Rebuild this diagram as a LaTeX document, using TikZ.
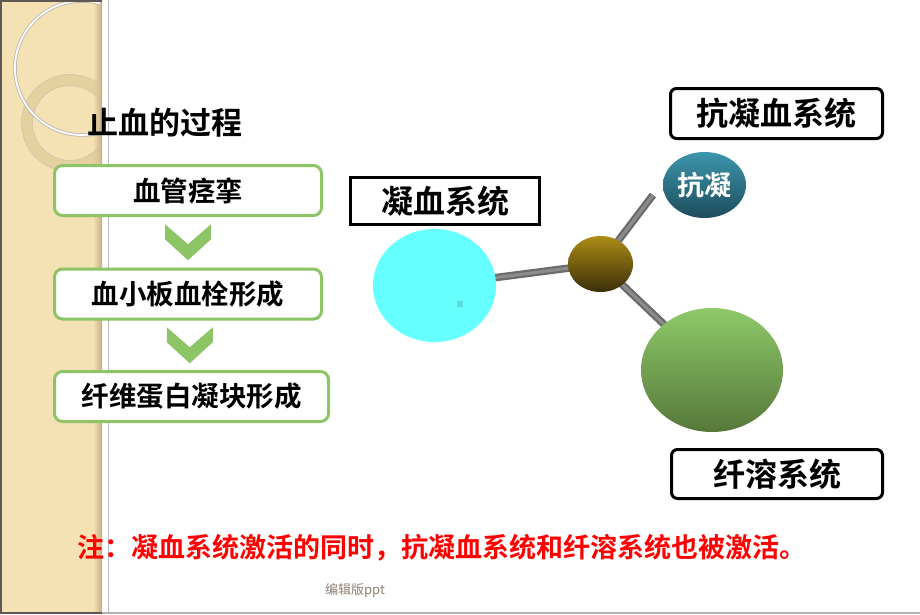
\documentclass[tikz,border=0pt]{standalone}
\usepackage{fontspec}
\newfontfamily\cjk{Noto Sans CJK SC}[BoldFont={Noto Sans CJK SC Bold}]
\usetikzlibrary{shapes.geometric,positioning,backgrounds}
\definecolor{leafgreen}{HTML}{8CC466}
\definecolor{sand}{HTML}{F4E2B4}
\definecolor{sandedge}{HTML}{C4AE82}
\definecolor{ringtan}{HTML}{DCC494}
\definecolor{framegray}{HTML}{5E5752}
\definecolor{aqua}{HTML}{66FFFF}
\definecolor{aquadot}{HTML}{5CD9D9}
\definecolor{hubtop}{HTML}{AC8C16}
\definecolor{hubbot}{HTML}{3A2E08}
\definecolor{tealtop}{HTML}{3C96AC}
\definecolor{tealbot}{HTML}{1E4C5C}
\definecolor{limetop}{HTML}{8EC969}
\definecolor{limebot}{HTML}{56783A}
\tikzset{chevron/.pic={\fill[leafgreen] (-23,-18) -- (0,2) -- (23,-18) -- (23,-3) -- (0,18) -- (-23,-3) -- cycle;}}

\begin{document}
\begin{tikzpicture}[x=1pt, y=-1pt, every node/.style={font=\cjk\bfseries},
    stepbox/.style={draw=leafgreen, line width=3pt, rounded corners=8pt, fill=white, minimum height=50pt, font=\cjk\bfseries\fontsize{27.5}{32}\selectfont},
    sysbox/.style={draw=black, line width=3pt, fill=white, minimum height=47pt, font=\cjk\bfseries\fontsize{32}{36}\selectfont},
    ball/.style={ellipse, inner sep=0pt, draw=none},
    rod/.style={line width=7.5pt, draw=black!58, postaction={draw=black!45, line width=3pt}}]
    \useasboundingbox (0,0) rectangle (920,614);

    % side strip
    \fill[sand] (0,0) rectangle (100,614);
    \shade[left color=sand, right color=sandedge] (93,0) rectangle (102,612);
    \begin{scope}
        \clip (0,0) rectangle (100,612);
        \draw[ringtan, line width=11pt, opacity=.6] (70,123) circle (43);
        \draw[sandedge!70, line width=.8pt] (70,123) circle (48.5) (70,123) circle (37.5);
        \draw[gray!55, line width=3.5pt] (82,68) circle (67);
        \draw[white!85!sand, line width=1.8pt] (82,68) circle (67);
    \end{scope}
    \draw[framegray, line width=2pt] (1,614) -- (1,1) -- (102,1);
    \draw[gray!60, line width=2pt] (0,613) -- (920,613);
    \draw[framegray, line width=2pt] (0,613) -- (102,613);
    \draw[gray!55, line width=1.2pt] (108.5,0) -- (108.5,614);

    % process
    \node[font=\cjk\bfseries\fontsize{31}{36}\selectfont] (title) at (165,123) {止血的过程};
    \node[stepbox, minimum width=267pt] (b1) at (188,190.5) {血管痉挛};
    \node[stepbox, minimum width=267pt] (b2) at (188,294) {血小板血栓形成};
    \node[stepbox, minimum width=274pt] (b3) at (191.5,396.5) {纤维蛋白凝块形成};
    \path (b1) -- (b2) pic[pos=.5] {chevron};
    \path (b2) -- (b3) pic[pos=.5] {chevron};

    % systems
    \node[sysbox, minimum width=189pt] (coag) at (445,201) {凝血系统};
    \node[sysbox, rounded corners=6pt, minimum width=212pt, minimum height=50pt] (anti) at (776.5,113.5) {抗凝血系统};
    \node[sysbox, rounded corners=6pt, minimum width=211pt, minimum height=49pt] (fibr) at (777,474) {纤溶系统};

    \node[ball, fill=aqua, minimum width=123pt, minimum height=113pt] (blood) at (434.5,285.5) {};
    \fill[aquadot] (457,301) rectangle (463,307);
    \node[ball, top color=hubtop, bottom color=hubbot, minimum width=65pt, minimum height=56pt] (hub) at (600.5,264) {};
    \node[ball, top color=tealtop, bottom color=tealbot, minimum width=83pt, minimum height=66pt, text=white, font=\cjk\bfseries\fontsize{27}{30}\selectfont] (antiball) at (704.5,185) {抗凝};
    \node[ball, top color=limetop, bottom color=limebot, minimum width=142pt, minimum height=124pt] (lysis) at (712,370) {};
    \coordinate (rodend) at (653,195);

    \begin{scope}[on background layer]
        \draw[rod] (blood.center) -- (hub.center);
        \draw[rod] (hub.center) -- (rodend);
        \draw[rod] (hub.center) -- (lysis.center);
    \end{scope}

    % note
    \node[text=red, font=\cjk\bfseries\fontsize{27}{30}\selectfont] (note) at (441.5,548) {注：凝血系统激活的同时，抗凝血系统和纤溶系统也被激活。};
    \node[text=gray!80!brown, font=\cjk\fontsize{13}{15}\selectfont] (mark) at (355,590) {编辑版ppt};
\end{tikzpicture}
\end{document}
